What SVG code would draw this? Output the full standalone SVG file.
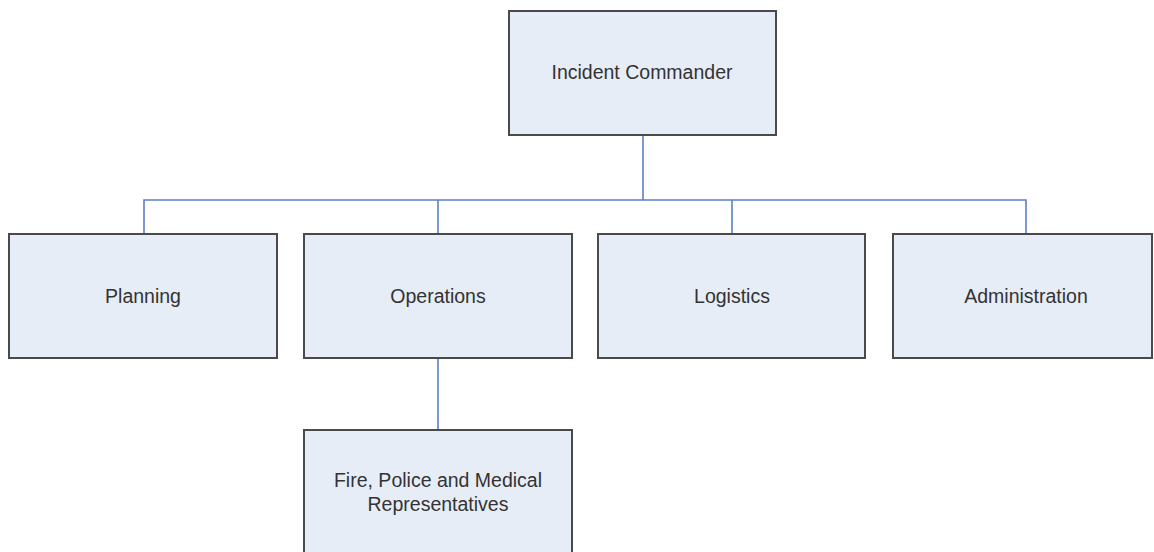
<svg xmlns="http://www.w3.org/2000/svg" width="1154" height="552" viewBox="0 0 1154 552">
<style>
.box{fill:#e7edf7;stroke:#4a4a4a;stroke-width:2}
.lbl{font-family:"Liberation Sans",Arial,sans-serif;font-size:19.5px;fill:#333;text-anchor:middle;dominant-baseline:central}
.con{fill:none;stroke:#5a7fc8;stroke-width:1.6}
</style>
<rect width="1154" height="552" fill="#fff"/>
<g id="connectors">
<path class="con" d="M643 135V200"/>
<path class="con" d="M144 233V200H1026V233"/>
<path class="con" d="M438 200V233"/>
<path class="con" d="M732 200V233"/>
<path class="con" d="M438 358V430"/>
</g>
<g id="incident-commander"><rect class="box" x="509" y="11" width="267" height="124"/><text class="lbl" x="642" y="72">Incident Commander</text></g>
<g id="planning"><rect class="box" x="9" y="234" width="268" height="124"/><text class="lbl" x="143" y="296">Planning</text></g>
<g id="operations"><rect class="box" x="304" y="234" width="268" height="124"/><text class="lbl" x="438" y="296">Operations</text></g>
<g id="logistics"><rect class="box" x="598" y="234" width="267" height="124"/><text class="lbl" x="732" y="296">Logistics</text></g>
<g id="administration"><rect class="box" x="893" y="234" width="259" height="124"/><text class="lbl" x="1026" y="296">Administration</text></g>
<g id="fire-police-medical"><rect class="box" x="304" y="430" width="268" height="126"/><text class="lbl" x="438" y="480">Fire, Police and Medical</text><text class="lbl" x="438" y="504">Representatives</text></g>
</svg>
